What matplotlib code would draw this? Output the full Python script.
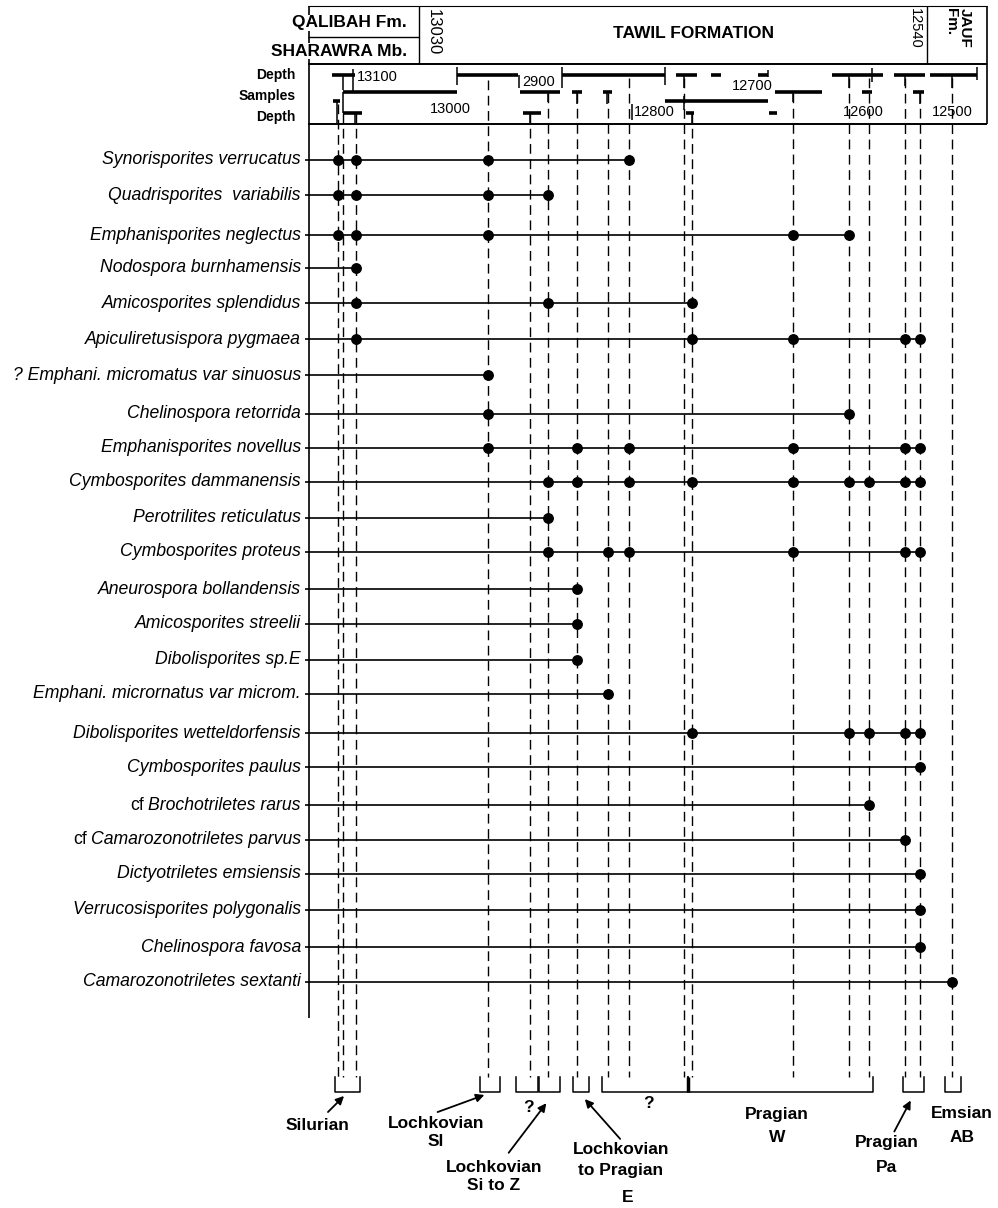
import matplotlib
matplotlib.use("Agg")
import matplotlib.pyplot as plt

plt.rcParams['font.family'] = ['Liberation Sans', 'DejaVu Sans']

# ---------------- data ----------------
# sample positions along the section (chart units, left = deeper)
sample_x = [338, 343, 356, 488, 530, 548, 577, 608, 629, 684, 692, 793, 849, 869, 905, 920, 952]

species = [
    "Synorisporites verrucatus",
    "Quadrisporites  variabilis",
    "Emphanisporites neglectus",
    "Nodospora burnhamensis",
    "Amicosporites splendidus",
    "Apiculiretusispora pygmaea",
    "? Emphani. micromatus var sinuosus",
    "Chelinospora retorrida",
    "Emphanisporites novellus",
    "Cymbosporites dammanensis",
    "Perotrilites reticulatus",
    "Cymbosporites proteus",
    "Aneurospora bollandensis",
    "Amicosporites streelii",
    "Dibolisporites sp.E",
    "Emphani. micrornatus var microm.",
    "Dibolisporites wetteldorfensis",
    "Cymbosporites paulus",
    "Brochotriletes rarus",
    "Camarozonotriletes parvus",
    "Dictyotriletes emsiensis",
    "Verrucosisporites polygonalis",
    "Chelinospora favosa",
    "Camarozonotriletes sextanti",
]
species_prefix = ["", "", "", "", "", "", "", "", "", "", "", "", "", "", "", "", "",
                  "", "cf", "cf", "", "", "", ""]

# occurrences: indices into sample_x
occurrences = [
    [0, 2, 3, 8],
    [0, 2, 3, 5],
    [0, 2, 3, 11, 12],
    [2],
    [2, 5, 10],
    [2, 10, 11, 14, 15],
    [3],
    [3, 12],
    [3, 6, 8, 11, 14, 15],
    [5, 6, 8, 10, 11, 12, 13, 14, 15],
    [5],
    [5, 7, 8, 11, 14, 15],
    [6],
    [6],
    [6],
    [7],
    [10, 12, 13, 14, 15],
    [15],
    [13],
    [14],
    [15],
    [15],
    [15],
    [16],
]

# stage intervals at the base
stage_ranges = [(335, 360), (480, 500), (516, 538), (539, 560), (573, 589),
                (602, 688), (688, 873), (903, 924), (945, 961)]

# header depth-log sample intervals (three rows)
row1_bars = [(332, 355), (457, 518), (562, 665), (676, 697), (711, 721),
             (758, 768), (832, 883), (894, 925), (930, 977)]
row2_bars = [(343, 457), (520, 560), (572, 582), (603, 612), (775, 822),
             (862, 872), (913, 924)]
row2b_bars = [(333, 340), (665, 768)]
row3_bars = [(343, 362), (523, 541), (686, 694), (769, 777)]
depth_labels = ["13100", "2900", "13000", "12800", "12700", "12600", "12500"]

# ---------------- layout ----------------
row_y = [160, 195, 235, 268, 303, 339, 375, 414, 448, 482, 518, 552, 589, 624,
         660, 694, 733, 767, 805, 840, 874, 910, 947, 982]
sample_top = [104, 113, 113, 80, 113, 93, 93, 93, 78, 78, 113, 93, 78, 78, 78, 93, 78]
depth_label_pos = [(357, 77), (522, 82), (430, 109), (634, 112), (732, 86), (843, 112), (932, 112)]
header_ticks = [(343, 75, 90), (353, 69, 92), (457, 67, 85), (519, 75, 88), (562, 67, 88),
                (665, 67, 85), (684, 75, 88), (768, 70, 77), (849, 75, 88), (872, 68, 82),
                (905, 75, 86), (952, 75, 88), (977, 67, 80), (337, 101, 123), (343, 92, 113),
                (548, 92, 102), (577, 92, 104), (607, 92, 104), (793, 92, 102), (920, 92, 104),
                (530, 113, 123), (692, 113, 123), (355, 113, 123), (632, 104, 120),
                (684, 96, 110)]

K = 'black'
fig = plt.figure(figsize=(9.98, 12.08), dpi=100)
ax = fig.add_axes([0, 0, 1, 1])
ax.set_xlim(0, 998)
ax.set_ylim(1208, 0)
ax.axis('off')


def seg(x0, y0, x1, y1, lw=1.0, **kw):
    ax.plot([x0, x1], [y0, y1], color=K, lw=lw, solid_capstyle='butt', **kw)


# ---- header boxes ----
seg(308, 6, 987, 6, lw=0.8)
seg(308, 37, 419, 37, lw=1.0)
seg(308, 64, 987, 64, lw=1.4)
seg(308, 124, 987, 124, lw=1.4)
seg(419, 6, 419, 64, lw=1.0)
seg(927, 6, 927, 64, lw=1.0)
seg(987, 6, 987, 124, lw=1.2)
seg(309, 6, 309, 1018, lw=1.2)

wb = dict(facecolor='white', edgecolor='none', pad=0.5)
ax.text(407, 23, "QALIBAH Fm.", ha='right', va='center', fontsize=12.5,
        fontweight='bold', bbox=wb, zorder=5)
ax.text(407, 51, "SHARAWRA Mb.", ha='right', va='center', fontsize=12.5,
        fontweight='bold', bbox=wb, zorder=5)
ax.text(433, 9, "13030", rotation=-90, ha='center', va='top', fontsize=12)
ax.text(694, 34, "TAWIL FORMATION", ha='center', va='center', fontsize=12.5,
        fontweight='bold')
ax.text(915, 8, "12540", rotation=-90, ha='center', va='top', fontsize=10.5)
ax.text(958, 8, "JAUF\nFm.", rotation=-90, ha='center', va='top', fontsize=11,
        fontweight='bold', multialignment='left', linespacing=1.0)

for lab, yy in zip(["Depth", "Samples", "Depth"], [75, 96, 117]):
    ax.text(296, yy, lab, ha='right', va='center', fontsize=10, fontweight='bold')

for bars, yy in [(row1_bars, 75), (row2_bars, 92), (row2b_bars, 101), (row3_bars, 113)]:
    for a, b in bars:
        seg(a, yy, b, yy, lw=2.6)
for x, y0, y1 in header_ticks:
    seg(x, y0, x, y1, lw=1.1)
for lab, (x, y) in zip(depth_labels, depth_label_pos):
    ax.text(x, y, lab, ha='left', va='center', fontsize=10.5)

# ---- dashed sample lines ----
for x, top in zip(sample_x, sample_top):
    ax.plot([x, x], [top, 1077], color=K, lw=1.0, dashes=(7, 4), zorder=1)

# ---- species ranges ----
fig.canvas.draw()
renderer = fig.canvas.get_renderer()
for name, pre, occ, yy in zip(species, species_prefix, occurrences, row_y):
    xs = [sample_x[i] for i in occ]
    seg(305, yy, max(xs), yy, lw=1.2)
    ax.plot(xs, [yy] * len(xs), 'o', color=K, ms=6.8, zorder=4)
    t = ax.text(301, yy, name, ha='right', va='center', fontsize=12.7, style='italic')
    if pre:
        bb = t.get_window_extent(renderer=renderer)
        ax.text(bb.x0 - 4, yy, pre, ha='right', va='center', fontsize=12.7)

# ---- stage brackets ----
for a, b in stage_ranges:
    ax.plot([a, a, b, b], [1077, 1092, 1092, 1077], color=K, lw=1.1)
seg(688, 1077, 688, 1092, lw=2.5)

bold = dict(fontsize=12.5, fontweight='bold', ha='center', va='center')
ax.text(318, 1125, "Silurian", **bold)
ax.text(436, 1124, "Lochkovian", **bold)
ax.text(436, 1142, "Sl", **bold)
ax.text(528, 1108, "?", **bold)
ax.text(494, 1167, "Lochkovian", **bold)
ax.text(494, 1186, "Si to Z", **bold)
ax.text(621, 1150, "Lochkovian", **bold)
ax.text(621, 1170, "to Pragian", **bold)
ax.text(628, 1198, "E", **bold)
ax.text(648, 1104, "?", **bold)
ax.text(777, 1115, "Pragian", **bold)
ax.text(777, 1138, "W", **bold)
ax.text(887, 1143, "Pragian", **bold)
ax.text(887, 1167, "Pa", **bold)
ax.text(962, 1113, "Emsian", **bold)
ax.text(962, 1138, "AB", **bold)

arrow = dict(arrowstyle='-|>', color=K, lw=1.3, mutation_scale=12)
for (x0, y0), (x1, y1) in [((326, 1114), (346, 1094)),
                           ((435, 1113), (487, 1094)),
                           ((507, 1155), (548, 1101)),
                           ((622, 1141), (583, 1097)),
                           ((893, 1134), (912, 1098))]:
    ax.annotate("", xy=(x1, y1), xytext=(x0, y0), arrowprops=arrow)

fig.savefig("out.png", dpi=100)
